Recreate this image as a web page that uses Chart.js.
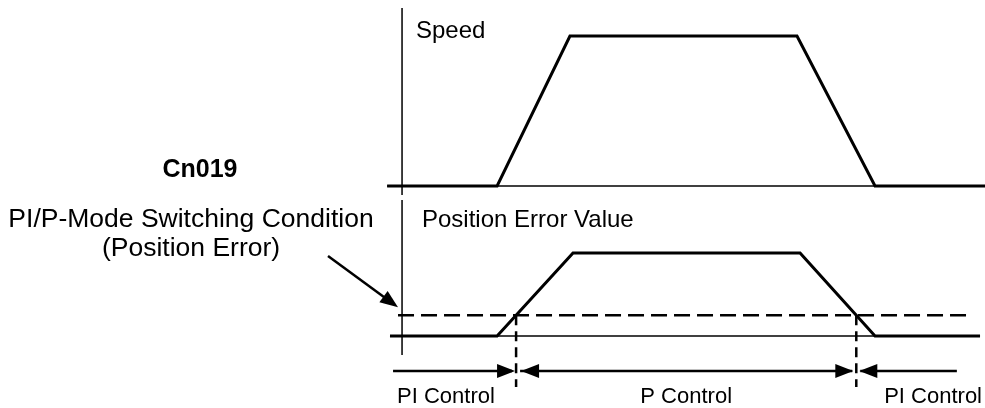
<!DOCTYPE html>
<html>
<head>
<meta charset="utf-8">
<script src="https://cdn.jsdelivr.net/npm/chart.js@4"></script>
<style>
    html, body { margin: 0; padding: 0; background: #fff; }
    canvas { display: block; }
</style>
</head>
<body>
<canvas id="my-chart" width="985" height="408"></canvas>
<script>
// * PI/P mode switching by position error (Cn019)
// * Top panel: speed profile, bottom panel: position error profile

// time axis (arbitrary units, 0 = vertical axis)
const speedTimes = [-0.63, 4.02, 7.1, 16.7, 20, 24.65]
const speedValues = [0, 0, 1, 1, 0, 0]
const errorTimes = [-0.51, 4.02, 7.23, 16.83, 20, 24.44]
const errorValues = [0, 0, 1, 1, 0, 0]

// switching level (position error) set by Cn019
const switchLevel = 0.25
const thresholdTimes = [-0.17, 24.02]

// axis extents
const speedAxisTimes = [-0.63, 24.65]
const speedAxisRange = [1.187, -0.06]
const errorAxisTimes = [-0.51, 24.44]
const errorAxisRange = [1.64, -0.23]

// control regions under the chart
const regionLabels = ['PI Control', 'P Control', 'PI Control']
const regionStart = -0.38
const regionEnd = 23.46
const arrowLevel = -0.42
const markerBottom = -0.614
const labelLevel = -0.807

// time where error crosses the switching level (on ramps)
function crossing(t0, v0, t1, v1, level) {
    return t0 + (level - v0) * (t1 - t0) / (v1 - v0)
}
const switchOn = crossing(errorTimes[1], errorValues[1], errorTimes[2], errorValues[2], switchLevel)
const switchOff = crossing(errorTimes[3], errorValues[3], errorTimes[4], errorValues[4], switchLevel)

const ctx = document.getElementById('my-chart')
const FONT = '"Liberation Sans", Arial, Helvetica, sans-serif'

function pts(xs, ys) {
    return xs.map((x, i) => ({ x: x, y: ys[i] }))
}

function line(data, axis, width, dash) {
    return {
        data: data,
        yAxisID: axis,
        showLine: true,
        borderColor: '#000',
        borderWidth: width,
        borderDash: dash || [],
        pointRadius: 0,
        fill: false,
        tension: 0
    }
}

function arrowHead(c, x, y, dir) {
    // dir: 1 = pointing right, -1 = pointing left
    const len = 18
    const half = 7
    c.beginPath()
    c.moveTo(x, y)
    c.lineTo(x - dir * len, y - half)
    c.lineTo(x - dir * len, y + half)
    c.closePath()
    c.fill()
}

// arrows, markers and texts
const extras = {
    id: 'extras',
    afterDatasetsDraw(chart) {
        const c = chart.ctx
        const xs = chart.scales.x
        const ye = chart.scales.yErr
        const px = (t) => xs.getPixelForValue(t)
        const py = (v) => ye.getPixelForValue(v)

        c.save()
        c.fillStyle = '#000'
        c.strokeStyle = '#000'

        // vertical dashed markers at switch points
        c.lineWidth = 2.5
        c.setLineDash([10, 6])
        ;[switchOn, switchOff].forEach((t) => {
            c.beginPath()
            c.moveTo(px(t), py(switchLevel))
            c.lineTo(px(t), py(markerBottom))
            c.stroke()
        })
        c.setLineDash([])

        // region arrows
        const ay = py(arrowLevel)
        const gap = 4
        c.lineWidth = 2.5
        c.beginPath()
        c.moveTo(px(regionStart), ay)
        c.lineTo(px(switchOn) - gap, ay)
        c.moveTo(px(switchOn) + gap, ay)
        c.lineTo(px(switchOff) - gap, ay)
        c.moveTo(px(switchOff) + gap, ay)
        c.lineTo(px(regionEnd), ay)
        c.stroke()
        arrowHead(c, px(switchOn) - 1, ay, 1)
        arrowHead(c, px(switchOn) + 5, ay, -1)
        arrowHead(c, px(switchOff) - 3, ay, 1)
        arrowHead(c, px(switchOff) + 3, ay, -1)

        // region labels
        c.font = '22px ' + FONT
        c.textBaseline = 'alphabetic'
        const ly = py(labelLevel)
        c.textAlign = 'left'
        c.fillText(regionLabels[0], px(regionStart) + 4, ly)
        c.textAlign = 'center'
        c.fillText(regionLabels[1], (px(switchOn) + px(switchOff)) / 2, ly)
        c.textAlign = 'right'
        c.fillText(regionLabels[2], chart.width - 3, ly)

        // panel titles
        c.font = '24px ' + FONT
        c.textAlign = 'left'
        c.fillText('Speed', 416, 38)
        c.fillText('Position Error Value', 422, 227)

        // Cn019 annotation
        c.textAlign = 'center'
        c.font = 'bold 25px ' + FONT
        c.fillText('Cn019', 200, 177)
        c.font = '26.5px ' + FONT
        c.fillText('PI/P-Mode Switching Condition', 191, 227)
        c.fillText('(Position Error)', 191, 256)

        // pointer to switching level
        const tipX = px(thresholdTimes[0])
        const tipY = py(switchLevel) - 8
        const sx = 328
        const sy = 256
        const ang = Math.atan2(tipY - sy, tipX - sx)
        c.lineWidth = 2.5
        c.beginPath()
        c.moveTo(sx, sy)
        c.lineTo(tipX - 12 * Math.cos(ang), tipY - 12 * Math.sin(ang))
        c.stroke()
        c.translate(tipX, tipY)
        c.rotate(ang)
        c.beginPath()
        c.moveTo(0, 0)
        c.lineTo(-18, -7)
        c.lineTo(-18, 7)
        c.closePath()
        c.fill()

        c.restore()
    }
}

new Chart(ctx, {
    type: 'scatter',
    data: {
        datasets: [
            // speed panel axes
            line(pts([0, 0], speedAxisRange), 'ySpeed', 1.5),
            line(pts(speedAxisTimes, [0, 0]), 'ySpeed', 1.5),
            // position error panel axes
            line(pts([0, 0], errorAxisRange), 'yErr', 1.5),
            line(pts(errorAxisTimes, [0, 0]), 'yErr', 1.5),
            // switching level
            line(pts(thresholdTimes, [switchLevel, switchLevel]), 'yErr', 2.5, [16, 7]),
            // profiles
            line(pts(speedTimes, speedValues), 'ySpeed', 3),
            line(pts(errorTimes, errorValues), 'yErr', 3)
        ]
    },
    options: {
        responsive: false,
        animation: false,
        layout: { padding: 0 },
        plugins: {
            legend: { display: false },
            tooltip: { enabled: false }
        },
        scales: {
            x: { type: 'linear', min: -17, max: 24.65, display: false },
            ySpeed: { type: 'linear', min: -1.48, max: 1.24, display: false },
            yErr: { type: 'linear', min: -0.867, max: 4.048, display: false }
        }
    },
    plugins: [extras]
})
</script>
</body>
</html>
